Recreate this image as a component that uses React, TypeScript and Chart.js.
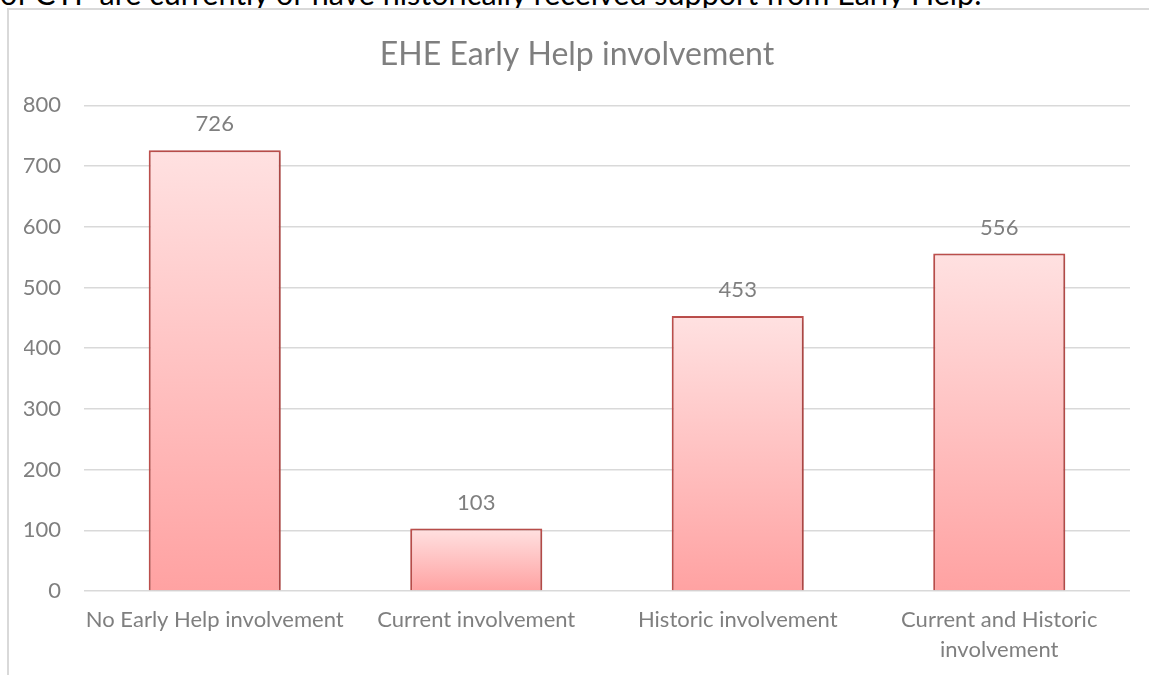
import React, { useEffect, useRef } from "react";
import { Chart, registerables } from "chart.js";

Chart.register(...registerables);

const categories: (string | string[])[] = [
  "No Early Help involvement",
  "Current involvement",
  "Historic involvement",
  ["Current and Historic", "involvement"],
];
const values: number[] = [726, 103, 453, 556];
const chartTitle = "EHE Early Help involvement";
const headingText = "of CYP are currently or have historically received support from Early Help.";
const yMax = 800;
const yStep = 100;

const FONT = "Lato, Carlito, Calibri, sans-serif";
const GREY = "#7f7f7f";

const valueLabels = {
  id: "valueLabels",
  afterDatasetsDraw(chart: any) {
    const { ctx } = chart;
    const meta = chart.getDatasetMeta(0);
    ctx.save();
    ctx.font = `22px ${FONT}`;
    ctx.fillStyle = GREY;
    ctx.textAlign = "center";
    ctx.textBaseline = "middle";
    meta.data.forEach((el: any, i: number) => {
      ctx.fillText(String(values[i]), el.x, el.y - 26);
    });
    ctx.restore();
  },
};

const barShadow = {
  id: "barShadow",
  beforeDatasetsDraw(chart: any) {
    const ctx = chart.ctx;
    ctx.save();
    ctx.shadowColor = "rgba(0,0,0,0.22)";
    ctx.shadowBlur = 5;
    ctx.shadowOffsetX = 1;
    ctx.shadowOffsetY = 1;
  },
  afterDatasetsDraw(chart: any) {
    chart.ctx.restore();
  },
};

export default function App() {
  const ref = useRef<HTMLCanvasElement | null>(null);

  useEffect(() => {
    if (!ref.current) return;
    const chart = new Chart(ref.current, {
      type: "bar",
      data: {
        labels: categories,
        datasets: [
          {
            data: values,
            backgroundColor: (c: any) => {
              const ch = c.chart;
              if (!ch.chartArea || c.raw === undefined) return "#ffc0c0";
              const y = ch.scales.y;
              const top = y.getPixelForValue(c.raw);
              const bottom = y.getPixelForValue(0);
              const g = ch.ctx.createLinearGradient(0, top, 0, bottom);
              g.addColorStop(0, "#ffe1e1");
              g.addColorStop(1, "#ffa2a2");
              return g;
            },
            borderColor: "#c0504d",
            borderWidth: 2,
            borderSkipped: "bottom",
            categoryPercentage: 1,
            barPercentage: 0.505,
          },
        ],
      },
      options: {
        animation: false,
        responsive: false,
        maintainAspectRatio: false,
        layout: { padding: { left: 24, right: 19, top: 20, bottom: 0 } },
        plugins: {
          legend: { display: false },
          tooltip: { enabled: false },
          title: {
            display: true,
            text: chartTitle,
            color: GREY,
            font: { family: FONT, size: 32, weight: "normal", lineHeight: 1.2 },
            padding: { top: 15, bottom: 32 },
          },
        },
        scales: {
          x: {
            grid: { display: false, drawTicks: false },
            border: { display: false },
            ticks: {
              color: GREY,
              font: { family: FONT, size: 22, lineHeight: 1.36 },
              padding: 14,
              maxRotation: 0,
              autoSkip: false,
            },
            afterFit: (s: any) => {
              s.height = 84;
            },
          },
          y: {
            min: 0,
            max: yMax,
            grid: { color: "#d9d9d9", lineWidth: 1.5, drawTicks: false },
            border: { display: false },
            ticks: {
              stepSize: yStep,
              color: GREY,
              font: { family: FONT, size: 22 },
              padding: 23,
            },
            afterFit: (s: any) => {
              s.width = 60;
            },
          },
        },
      },
      plugins: [barShadow, valueLabels],
    });
    return () => chart.destroy();
  }, []);

  return (
    <div
      style={{
        position: "fixed",
        left: 0,
        top: 0,
        width: 1149,
        height: 675,
        overflow: "hidden",
        background: "#fff",
      }}
    >
      <div
        style={{
          position: "absolute",
          left: 0,
          top: -25,
          whiteSpace: "nowrap",
          fontFamily: FONT,
          fontSize: 30.5,
          color: "#000",
          lineHeight: "normal",
        }}
      >
        {headingText}
      </div>
      <div
        style={{
          position: "absolute",
          left: 7,
          top: 8,
          width: 1200,
          height: 720,
          border: "2px solid #d9d9d9",
          boxSizing: "border-box",
        }}
      />
      <canvas
        ref={ref}
        width={1149}
        height={675}
        style={{ position: "absolute", left: 0, top: 0, width: 1149, height: 675 }}
      />
    </div>
  );
}
